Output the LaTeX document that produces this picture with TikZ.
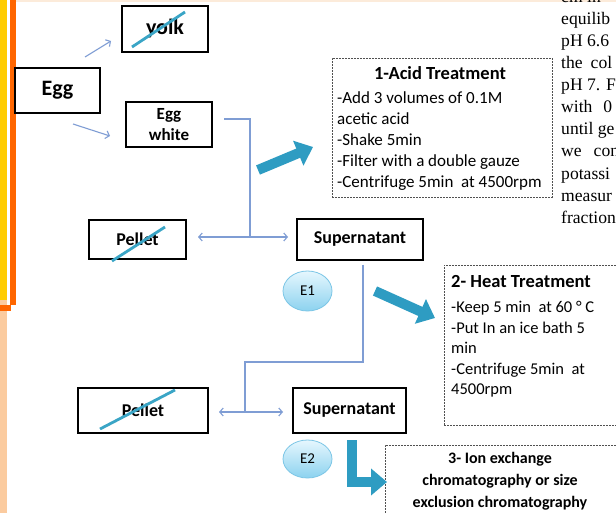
\documentclass[tikz,border=0pt]{standalone}
\usepackage{fontspec}
\setmainfont{Carlito}
\newfontfamily\rtimes{Liberation Serif}
\usetikzlibrary{arrows.meta,shapes.geometric}
\definecolor{connc}{HTML}{7F9DD4}
\definecolor{fatc}{HTML}{2E9CC2}
\definecolor{strikec}{HTML}{3AA5C6}
\definecolor{barYellow}{HTML}{FFCC00}
\definecolor{barOrange}{HTML}{FF6600}
\definecolor{barPeach}{HTML}{FBCB9F}
\definecolor{topl}{HTML}{FCEBDA}
\definecolor{ellb}{HTML}{7CC6E6}
\definecolor{ellt}{HTML}{E6F7FE}
\definecolor{ellbot}{HTML}{8CD2EF}
\definecolor{dashc}{HTML}{505050}
\tikzset{
 sbox/.style={draw=black, line width=1.6pt, fill=white, inner sep=0pt, align=center, font=\bfseries\fontsize{18}{21}\selectfont},
 bigbox/.style={sbox, font=\bfseries\fontsize{22}{26}\selectfont},
 conn/.style={draw=connc, line width=1.1pt},
 onetip/.style={-{Straight Barb[length=3.5pt,width=8pt]}},
 twotip/.style={{Straight Barb[length=3.5pt,width=8pt]}-{Straight Barb[length=3.5pt,width=8pt]}},
 fat/.style={draw=fatc, line width=10pt, line join=miter, -{Triangle[length=16pt,width=26pt]}},
 strike/.style={draw=strikec, line width=2.8pt},
 dbox/.style={draw=dashc, line width=0.8pt, dash pattern=on 1.8pt off 1.2pt, inner sep=0pt},
 ell/.style={ellipse, draw=ellb, line width=0.8pt, top color=ellt, bottom color=ellbot, inner sep=0pt, font=\fontsize{15}{17}\selectfont},
 body/.style={inner sep=0pt, align=left, font=\fontsize{17}{21.2}\selectfont},
 ttl/.style={inner sep=0pt, font=\bfseries\fontsize{18.5}{22}\selectfont},
 side/.style={inner sep=0pt, anchor=base west, font=\rtimes\fontsize{17.6}{20}\selectfont}
}
\begin{document}
\begin{tikzpicture}[x=1pt,y=-1pt]
\useasboundingbox (0,0) rectangle (616,513);
\clip (0,0) rectangle (616,513);
\fill[white] (0,0) rectangle (616,513);
% left bars and top line
\fill[fill=topl] (16,0) rectangle (616,2);
\fill[fill=barYellow] (0,0) rectangle (7,300);
\fill[fill=barPeach] (0,300) rectangle (7,513);
\fill[fill=barOrange] (9.5,0) rectangle (16,305);
\fill[fill=barOrange] (0,305) rectangle (11,311);
% side text (page behind)
\node[side] (r0) at (561,3) {cm in};
\node[side] (r1) at (561,25) {equilib};
\node[side] (r2) at (561,47) {pH 6.6};
\node[side] (r3) at (561,69) {the\hspace{8pt}col};
\node[side] (r4) at (561,91) {pH 7. F};
\node[side] (r5) at (561,113) {with\hspace{11pt}0};
\node[side] (r6) at (561,135) {until ge};
\node[side] (r7) at (561,157) {we\hspace{12pt}con};
\node[side] (r8) at (561,180) {potassi};
\node[side] (r9) at (561,202) {measur};
\node[side] (r10) at (561,224) {fraction};
% boxes
\node[bigbox, minimum width=85pt, minimum height=45pt] (egg) at (57.5,90.5) {Egg};
\node[bigbox, minimum width=86pt, minimum height=46pt] (yolk) at (165,29) {yolk};
\node[sbox, minimum width=86pt, minimum height=45pt, font=\bfseries\fontsize{17}{21}\selectfont] (white) at (169,124.5) {Egg\\white};
\node[sbox, minimum width=97pt, minimum height=39pt] (pel1) at (137.5,239.5) {Pellet};
\node[sbox, minimum width=126pt, minimum height=41pt] (sup1) at (360,239.5) {Supernatant};
\node[sbox, minimum width=130pt, minimum height=45pt] (pel2) at (143,410.5) {Pellet};
\node[sbox, minimum width=113pt, minimum height=45pt] (sup2) at (349.5,410.5) {Supernatant};
\node[ell, minimum width=49pt, minimum height=40pt] (e1) at (307.5,291) {E1};
\node[ell, minimum width=49pt, minimum height=38pt] (e2) at (307.5,459) {E2};
% strike-throughs
\draw[strike] (132,47) -- (185,12);
\draw[strike] (112,261) -- (165,227);
\draw[strike] (100,429) -- (175,390);
% dashed treatment boxes
\node[dbox, minimum width=220pt, minimum height=139pt] (acid) at (442,127.5) {};
\node[ttl] (acidt) at (440,73) {1-Acid Treatment};
\node[body, anchor=north west] (acidb) at (337,91) {-Add 3 volumes of 0.1M\\acetic acid\\-Shake 5min\\-Filter with a double gauze\\-Centrifuge 5min\ \ at 4500rpm};
\node[dbox, minimum width=180pt, minimum height=160pt] (heat) at (534,345) {};
\node[ttl, anchor=west] (heatt) at (451,282) {2- Heat Treatment};
\node[body, anchor=north west, font=\fontsize{16.5}{20.6}\selectfont] (heatb) at (451,301) {-Keep 5 min\ \ at 60 ° C\\-Put In an ice bath 5\\min\\-Centrifuge 5min\ \ at\\4500rpm};
\node[dbox, minimum width=240pt, minimum height=90pt] (ion) at (505,490) {};
\node[inner sep=0pt, align=center, font=\bfseries\fontsize{16}{22}\selectfont] (iont) at (500,481) {3- Ion exchange\\chromatography or size\\exclusion chromatography};
% thin connectors
\coordinate (a1) at (85,57); \coordinate (a2) at (111,41);
\coordinate (b1) at (73,124); \coordinate (b2) at (110,136);
\draw[conn, onetip] (a1) -- (a2);
\draw[conn, onetip] (b1) -- (b2);
\coordinate (w1) at (224,119); \coordinate (j1) at (250,237);
\coordinate (p1r) at (198,237); \coordinate (s1l) at (288,237);
\draw[conn] (w1) -| (j1);
\draw[conn, twotip] (p1r) -- (s1l);
\coordinate (s1b) at (363,265); \coordinate (k1) at (363,362); \coordinate (j2) at (245,412);
\coordinate (p2r) at (219,412); \coordinate (s2l) at (283,412);
\draw[conn] (s1b) -- (k1) -| (j2);
\draw[conn, twotip] (p2r) -- (s2l);
% fat arrows
\coordinate (f1a) at (258,170); \coordinate (f1b) at (313,147);
\draw[fat] (f1a) -- (f1b);
\coordinate (f2a) at (375,291); \coordinate (f2b) at (435,318);
\draw[fat] (f2a) -- (f2b);
\coordinate (f3a) at (352,440); \coordinate (f3b) at (387,482);
\draw[fat] (f3a) |- (f3b);
\end{tikzpicture}
\end{document}
